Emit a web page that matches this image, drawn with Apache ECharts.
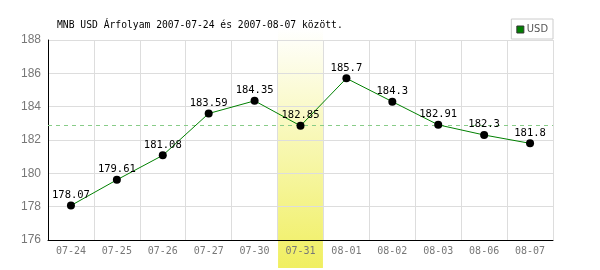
<!DOCTYPE html>
<html>
<head>
<meta charset="utf-8">
<script src="https://cdn.jsdelivr.net/npm/echarts@6/dist/echarts.min.js"></script>
<style>
  html, body { margin: 0; padding: 0; background: #fff; }
  #chart-container { width: 600px; height: 270px; }
</style>
</head>
<body>
<div id="chart-container"></div>
<script>
var days = ["07-24", "07-25", "07-26", "07-27", "07-30", "07-31", "08-01", "08-02", "08-03", "08-06", "08-07"];
var usd = [178.07, 179.61, 181.08, 183.59, 184.35, 182.85, 185.7, 184.3, 182.91, 182.3, 181.8];
var refLevel = 182.88;
var highlightDay = "07-31";
var yMin = 176, yMax = 188, yStep = 2;

var dom = document.getElementById("chart-container");
var myChart = echarts.init(dom, null, { renderer: "canvas" });

var option = {
  animation: false,
  title: {
    text: "MNB USD Árfolyam 2007-07-24 és 2007-08-07 között.",
    left: 52,
    top: 15,
    textStyle: { fontFamily: "DejaVu Sans Mono", fontSize: 9.7, fontWeight: "normal", color: "#000" }
  },
  legend: {
    right: 47,
    top: 19,
    orient: "vertical",
    backgroundColor: "#fff",
    borderColor: "#ccc",
    borderWidth: 1,
    padding: [5, 5, 4, 5],
    itemWidth: 7,
    itemHeight: 7,
    itemGap: 0,
    icon: "rect",
    textStyle: { fontFamily: "DejaVu Sans Condensed, Liberation Sans Narrow, Liberation Sans", fontSize: 11, color: "#555", padding: [0, 0, 0, -2] },
    data: [{ name: "USD", itemStyle: { color: "#008000", borderColor: "#333", borderWidth: 1 } }]
  },
  grid: { left: 48, right: 47, top: 40, bottom: 30 },
  xAxis: {
    type: "category",
    data: days,
    boundaryGap: true,
    axisLine: { lineStyle: { color: "#000", width: 1 } },
    axisTick: { show: false },
    axisLabel: { color: "#777", fontFamily: "DejaVu Sans Mono", fontSize: 10, margin: 6 },
    splitLine: { show: true, lineStyle: { color: "#ddd", width: 1 } }
  },
  yAxis: {
    type: "value",
    min: yMin,
    max: yMax,
    interval: yStep,
    axisLine: { show: true, lineStyle: { color: "#000", width: 1 } },
    axisTick: { show: false },
    axisLabel: { color: "#777", fontFamily: "Liberation Sans", fontSize: 12, margin: 7 },
    splitLine: { show: true, lineStyle: { color: "#ddd", width: 1 } }
  },
  series: [
    {
      name: "USD",
      type: "line",
      data: usd,
      symbol: "circle",
      symbolSize: 8,
      lineStyle: { color: "#008000", width: 1 },
      itemStyle: { color: "#000" },
      label: {
        show: true,
        position: "top",
        distance: 1,
        color: "#000",
        fontFamily: "DejaVu Sans Mono",
        fontSize: 10.5
      },
      markLine: {
        silent: true,
        symbol: "none",
        label: { show: false },
        lineStyle: { color: "#8c8", type: [4, 4], width: 1 },
        data: [{ yAxis: refLevel }]
      },
      z: 5
    }
  ]
};

myChart.setOption(option);

// yellow band behind the highlighted day, from the library's own scale
var idx = days.indexOf(highlightDay);
var cx = myChart.convertToPixel({ xAxisIndex: 0 }, idx);
var step = myChart.convertToPixel({ xAxisIndex: 0 }, 1) - myChart.convertToPixel({ xAxisIndex: 0 }, 0);
myChart.setOption({
  graphic: [
    {
      type: "rect",
      z: -1,
      silent: true,
      shape: { x: cx - step / 2 + 0.5, y: 28, width: step - 1, height: 240 },
      style: {
        fill: new echarts.graphic.LinearGradient(0, 0, 0, 1, [
          { offset: 0, color: "#ffffff" },
          { offset: 1, color: "#f0ef60" }
        ])
      }
    }
  ]
});

window.addEventListener("resize", myChart.resize);
</script>
</body>
</html>
